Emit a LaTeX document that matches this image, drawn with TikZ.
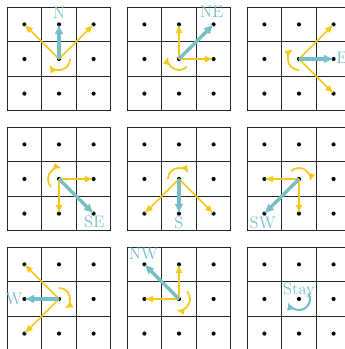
\documentclass[tikz,border=0pt]{standalone}
\usepackage{tikz}
\usepackage{xcolor}
\usetikzlibrary{arrows.meta}
\definecolor{actteal}{RGB}{118,190,200}
\definecolor{altgold}{RGB}{246,200,24}
\newcommand{\movegrid}[3]{%
  \draw[gridline] ({#2-1.5},{#3-1.5}) rectangle ({#2+1.5},{#3+1.5});
  \foreach \k in {-0.5,0.5} {
    \draw[gridline] ({#2+\k},{#3-1.5}) -- ({#2+\k},{#3+1.5});
    \draw[gridline] ({#2-1.5},{#3+\k}) -- ({#2+1.5},{#3+\k});
  }
  \foreach \cx/\cy/\cn in {-1/1/nw,0/1/n,1/1/ne,-1/0/w,0/0/c,1/0/e,-1/-1/sw,0/-1/s,1/-1/se}
    \node[gridpt] (#1-\cn) at ({#2+\cx},{#3+\cy}) {};
}

\begin{document}
\begin{tikzpicture}[
  gridline/.style = {black!85, line width=0.8pt},
  gridpt/.style = {circle, fill=black, inner sep=0pt, minimum size=0.12cm},
  move/.style = {altgold, line width=1.4pt, -{Latex[length=0.25cm, width=0.2cm]}},
  spin/.style = {altgold, line width=1.4pt, -{Latex[length=0.24cm, width=0.2cm]}},
  action/.style = {actteal, line width=2.7pt, -{Latex[length=0.28cm, width=0.26cm]}},
  stayspin/.style = {actteal, line width=1.7pt, -{Latex[length=0.24cm, width=0.21cm]}},
  actlabel/.style = {actteal, inner sep=0pt, font=\fontsize{13.7}{16}\selectfont},
  >=Latex
]
  \useasboundingbox (0,0) rectangle (9.971,10.087);
  \clip (0,0) rectangle (9.971,10.087);

  % top row
  \movegrid{pN}{1.705}{8.382}
  \movegrid{pNE}{5.173}{8.382}
  \movegrid{pE}{8.641}{8.382}
  % middle row
  \movegrid{pSE}{1.705}{4.914}
  \movegrid{pS}{5.173}{4.914}
  \movegrid{pSW}{8.641}{4.914}
  % bottom row
  \movegrid{pW}{1.705}{1.446}
  \movegrid{pNW}{5.173}{1.446}
  \movegrid{pStay}{8.641}{1.446}

  % N
  \draw[move] (pN-c.center) -- (pN-nw.center);
  \draw[move] (pN-c.center) -- (pN-ne.center);
  \draw[spin] (pN-c.center) ++(0:0.32) arc[start angle=0, end angle=-150, radius=0.32];
  \draw[action] (pN-c.center) -- (pN-n.center);
  \node[actlabel] (lN) at ([yshift=0.33cm]pN-n.center) {N};

  % NE
  \draw[move] (pNE-c.center) -- (pNE-n.center);
  \draw[move] (pNE-c.center) -- (pNE-e.center);
  \draw[spin] (pNE-c.center) ++(-45:0.32) arc[start angle=-45, end angle=-195, radius=0.32];
  \draw[action] (pNE-c.center) -- (pNE-ne.center);
  \node[actlabel] (lNE) at ([xshift=-0.05cm, yshift=0.36cm]pNE-ne.center) {NE};

  % E
  \draw[move] (pE-c.center) -- (pE-ne.center);
  \draw[move] (pE-c.center) -- (pE-se.center);
  \draw[spin] (pE-c.center) ++(-90:0.32) arc[start angle=-90, end angle=-240, radius=0.32];
  \draw[action] (pE-c.center) -- (pE-e.center);
  \node[actlabel] (lE) at ([xshift=0.24cm, yshift=0.02cm]pE-e.center) {E};

  % SE
  \draw[move] (pSE-c.center) -- (pSE-e.center);
  \draw[move] (pSE-c.center) -- (pSE-s.center);
  \draw[spin] (pSE-c.center) ++(225:0.32) arc[start angle=225, end angle=75, radius=0.32];
  \draw[action] (pSE-c.center) -- (pSE-se.center);
  \node[actlabel] (lSE) at ([xshift=0.02cm, yshift=-0.25cm]pSE-se.center) {SE};

  % S
  \draw[move] (pS-c.center) -- (pS-sw.center);
  \draw[move] (pS-c.center) -- (pS-se.center);
  \draw[spin] (pS-c.center) ++(180:0.32) arc[start angle=180, end angle=30, radius=0.32];
  \draw[action] (pS-c.center) -- (pS-s.center);
  \node[actlabel] (lS) at ([yshift=-0.27cm]pS-s.center) {S};

  % SW
  \draw[move] (pSW-c.center) -- (pSW-w.center);
  \draw[move] (pSW-c.center) -- (pSW-s.center);
  \draw[spin] (pSW-c.center) ++(135:0.32) arc[start angle=135, end angle=-15, radius=0.32];
  \draw[action] (pSW-c.center) -- (pSW-sw.center);
  \node[actlabel] (lSW) at ([xshift=-0.05cm, yshift=-0.27cm]pSW-sw.center) {SW};

  % W
  \draw[move] (pW-c.center) -- (pW-nw.center);
  \draw[move] (pW-c.center) -- (pW-sw.center);
  \draw[spin] (pW-c.center) ++(90:0.32) arc[start angle=90, end angle=-60, radius=0.32];
  \draw[action] (pW-c.center) -- (pW-w.center);
  \node[actlabel] (lW) at ([xshift=-0.3cm]pW-w.center) {W};

  % NW
  \draw[move] (pNW-c.center) -- (pNW-w.center);
  \draw[move] (pNW-c.center) -- (pNW-n.center);
  \draw[spin] (pNW-c.center) ++(45:0.32) arc[start angle=45, end angle=-105, radius=0.32];
  \draw[action] (pNW-c.center) -- (pNW-nw.center);
  \node[actlabel] (lNW) at ([xshift=-0.03cm, yshift=0.31cm]pNW-nw.center) {NW};

  % Stay
  \draw[stayspin] (pStay-c.center) ++(30:0.32) arc[start angle=30, end angle=-165, radius=0.32];
  \node[actlabel, anchor=base] (lStay) at ([yshift=0.14cm]pStay-c.center) {Stay};
\end{tikzpicture}
\end{document}
